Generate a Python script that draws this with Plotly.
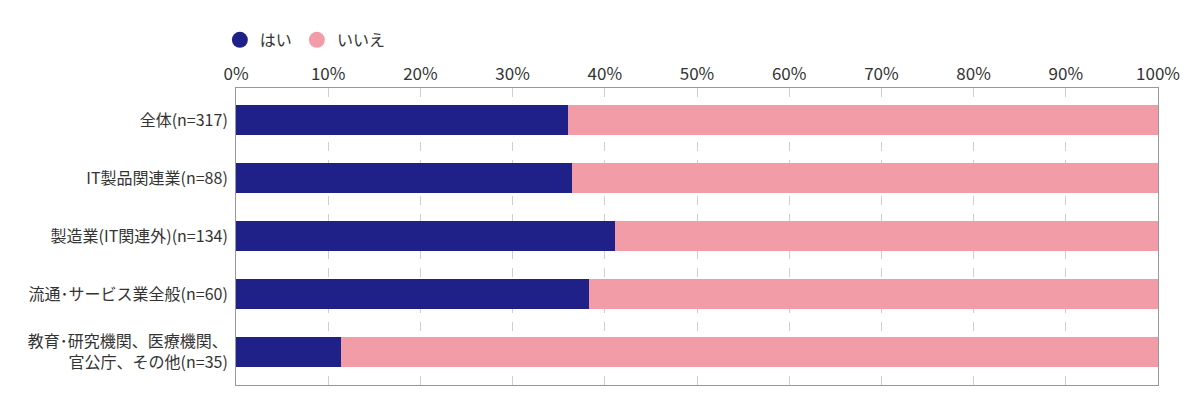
import plotly.graph_objects as go

categories = [
    "全体(n=317)",
    "IT製品関連業(n=88)",
    "製造業(IT関連外)(n=134)",
    "流通･サービス業全般(n=60)",
    "教育･研究機関、医療機関、<br>官公庁、その他(n=35)",
]
yes_values = [36.0, 36.4, 41.1, 38.3, 11.4]
no_values = [100 - v for v in yes_values]
series_names = ["はい", "いいえ"]
colors = ["#1f2188", "#f19ca7"]
tick_vals = list(range(0, 101, 10))
tick_text = [f"{v}%" for v in tick_vals]

FONT = "Noto Sans CJK JP, sans-serif"

fig = go.Figure()
for name, vals, col in zip(series_names, [yes_values, no_values], colors):
    fig.add_trace(go.Bar(
        y=categories, x=vals, orientation="h", name=name,
        marker=dict(color=col, line=dict(width=0)),
        width=0.52, showlegend=False,
    ))
for name, col in zip(series_names, colors):
    fig.add_trace(go.Scatter(
        x=[None], y=[None], mode="markers", name=name,
        marker=dict(color=col, size=16, symbol="circle"),
    ))

fig.update_layout(
    width=1184, height=389,
    margin=dict(l=228, r=34, t=80, b=12),
    barmode="stack",
    paper_bgcolor="white", plot_bgcolor="white",
    font=dict(family=FONT, size=16, color="#333333"),
    legend=dict(
        orientation="h", x=-0.0175, y=1.162, xanchor="left", yanchor="middle",
        font=dict(size=16, color="#333333"), itemwidth=30, tracegroupgap=0,
        traceorder="normal",
    ),
    xaxis=dict(
        side="top", range=[0, 100], tickvals=tick_vals, ticktext=tick_text,
        showgrid=True, gridcolor="#cfcfcf", griddash="dash", gridwidth=1,
        showline=True, linecolor="#999999", linewidth=1, mirror=True,
        ticks="", zeroline=False, tickfont=dict(size=17, color="#333333"),
        fixedrange=True,
    ),
    yaxis=dict(
        type="category", categoryorder="array", categoryarray=categories,
        range=[4.57, -0.55], showgrid=False,
        showline=True, linecolor="#999999", linewidth=1, mirror=True,
        ticks="", tickfont=dict(size=16, color="#333333"), ticklabelstandoff=4,
        fixedrange=True,
    ),
)

fig.write_html("out.html")
